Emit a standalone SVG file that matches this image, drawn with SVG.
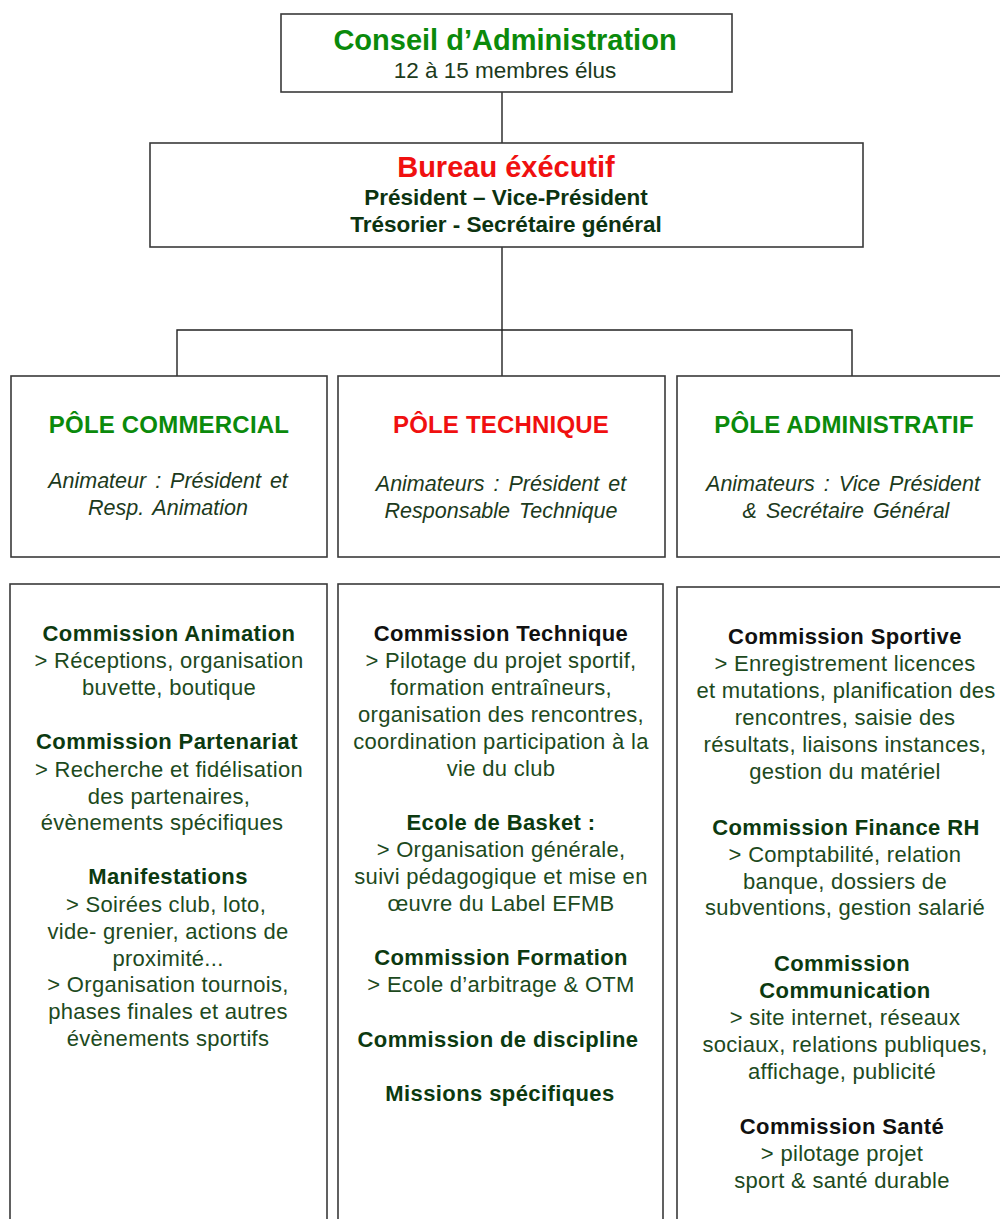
<svg xmlns="http://www.w3.org/2000/svg" width="1000" height="1219" viewBox="0 0 1000 1219">
<style>
text{font-family:"Liberation Sans",Arial,sans-serif;text-anchor:middle}
.box{fill:#fff;stroke:#3a3a3a;stroke-width:1.6}
.conn{stroke:#222;stroke-width:1.4;fill:none}
.h1g{font-size:29px;font-weight:bold;fill:#0b8a0b}
.h1r{font-size:29px;font-weight:bold;fill:#f01010}
.sub{font-size:22.5px;fill:#1c3a1c}
.bsub{font-size:22.5px;font-weight:bold;fill:#0c3310}
.pg{font-size:24px;font-weight:bold;fill:#0b8a0b;letter-spacing:0.2px}
.pr{font-size:24px;font-weight:bold;fill:#f01010;letter-spacing:0.2px}
.it{font-size:21.5px;font-style:italic;fill:#1c3a1c;word-spacing:3px}
.hd{font-size:22px;font-weight:bold;fill:#0c3a10;letter-spacing:0.4px}
.hk{font-size:22px;font-weight:bold;fill:#111;letter-spacing:0.4px}
.bd{font-size:22px;fill:#1d4a1d;letter-spacing:0.3px}
</style>
<g id="connectors">
<line class="conn" x1="502" y1="92" x2="502" y2="143"/>
<line class="conn" x1="502" y1="247" x2="502" y2="376"/>
<polyline class="conn" points="177,376 177,330 852,330 852,376"/>
</g>
<g id="conseil">
<rect class="box" x="281" y="14" width="451" height="78"/>
<text class="h1g" x="505" y="50">Conseil d’Administration</text>
<text class="sub" x="505" y="78">12 à 15 membres élus</text>
</g>
<g id="bureau">
<rect class="box" x="150" y="143" width="713" height="104"/>
<text class="h1r" x="506" y="177">Bureau éxécutif</text>
<text class="bsub" x="506" y="205">Président – Vice-Président</text>
<text class="bsub" x="506" y="232">Trésorier - Secrétaire général</text>
</g>
<g id="pole-commercial">
<rect class="box" x="11" y="376" width="316" height="181"/>
<text class="pg" x="169" y="433">PÔLE COMMERCIAL</text>
<text class="it" x="168" y="488">Animateur : Président et</text>
<text class="it" x="168" y="515">Resp. Animation</text>
</g>
<g id="pole-technique">
<rect class="box" x="338" y="376" width="327" height="181"/>
<text class="pr" x="501" y="433">PÔLE TECHNIQUE</text>
<text class="it" x="501" y="491">Animateurs : Président et</text>
<text class="it" x="501" y="518">Responsable Technique</text>
</g>
<g id="pole-administratif">
<rect class="box" x="677" y="376" width="335" height="181"/>
<text class="pg" x="844" y="433">PÔLE ADMINISTRATIF</text>
<text class="it" x="843" y="491">Animateurs : Vice Président</text>
<text class="it" x="846" y="518">&amp; Secrétaire Général</text>
</g>
<g id="commissions-commercial">
<rect class="box" x="10" y="584" width="317" height="660"/>
<text class="hd" x="169" y="641">Commission Animation</text>
<text class="bd" x="169" y="668">&gt; Réceptions, organisation</text>
<text class="bd" x="169" y="695">buvette, boutique</text>
<text class="hd" x="167" y="749">Commission Partenariat</text>
<text class="bd" x="169" y="777">&gt; Recherche et fidélisation</text>
<text class="bd" x="169" y="804">des partenaires,</text>
<text class="bd" x="162" y="830">évènements spécifiques</text>
<text class="hd" x="168" y="884">Manifestations</text>
<text class="bd" x="166" y="912">&gt; Soirées club, loto,</text>
<text class="bd" x="168" y="939">vide- grenier, actions de</text>
<text class="bd" x="168" y="966">proximité...</text>
<text class="bd" x="168" y="992">&gt; Organisation tournois,</text>
<text class="bd" x="168" y="1019">phases finales et autres</text>
<text class="bd" x="168" y="1046">évènements sportifs</text>
</g>
<g id="commissions-technique">
<rect class="box" x="338" y="584" width="325" height="660"/>
<text class="hk" x="501" y="641">Commission Technique</text>
<text class="bd" x="501" y="668">&gt; Pilotage du projet sportif,</text>
<text class="bd" x="501" y="695">formation entraîneurs,</text>
<text class="bd" x="501" y="722">organisation des rencontres,</text>
<text class="bd" x="501" y="749">coordination participation à la</text>
<text class="bd" x="501" y="776">vie du club</text>
<text class="hd" x="501" y="830">Ecole de Basket :</text>
<text class="bd" x="501" y="857">&gt; Organisation générale,</text>
<text class="bd" x="501" y="884">suivi pédagogique et mise en</text>
<text class="bd" x="501" y="911">œuvre du Label EFMB</text>
<text class="hd" x="501" y="965">Commission Formation</text>
<text class="bd" x="501" y="992">&gt; Ecole d’arbitrage &amp; OTM</text>
<text class="hd" x="498" y="1047">Commission de discipline</text>
<text class="hd" x="500" y="1101">Missions spécifiques</text>
</g>
<g id="commissions-administratif">
<rect class="box" x="677" y="587" width="335" height="660"/>
<text class="hk" x="845" y="644">Commission Sportive</text>
<text class="bd" x="845" y="671">&gt; Enregistrement licences</text>
<text class="bd" x="846" y="698">et mutations, planification des</text>
<text class="bd" x="845" y="725">rencontres, saisie des</text>
<text class="bd" x="845" y="752">résultats, liaisons instances,</text>
<text class="bd" x="845" y="779">gestion du matériel</text>
<text class="hd" x="846" y="835">Commission Finance RH</text>
<text class="bd" x="845" y="862">&gt; Comptabilité, relation</text>
<text class="bd" x="845" y="889">banque, dossiers de</text>
<text class="bd" x="845" y="915">subventions, gestion salarié</text>
<text class="hd" x="842" y="971">Commission</text>
<text class="hd" x="845" y="998">Communication</text>
<text class="bd" x="845" y="1025">&gt; site internet, réseaux</text>
<text class="bd" x="845" y="1052">sociaux, relations publiques,</text>
<text class="bd" x="842" y="1079">affichage, publicité</text>
<text class="hk" x="842" y="1134">Commission Santé</text>
<text class="bd" x="842" y="1161">&gt; pilotage projet</text>
<text class="bd" x="842" y="1188">sport &amp; santé durable</text>
</g>
</svg>
